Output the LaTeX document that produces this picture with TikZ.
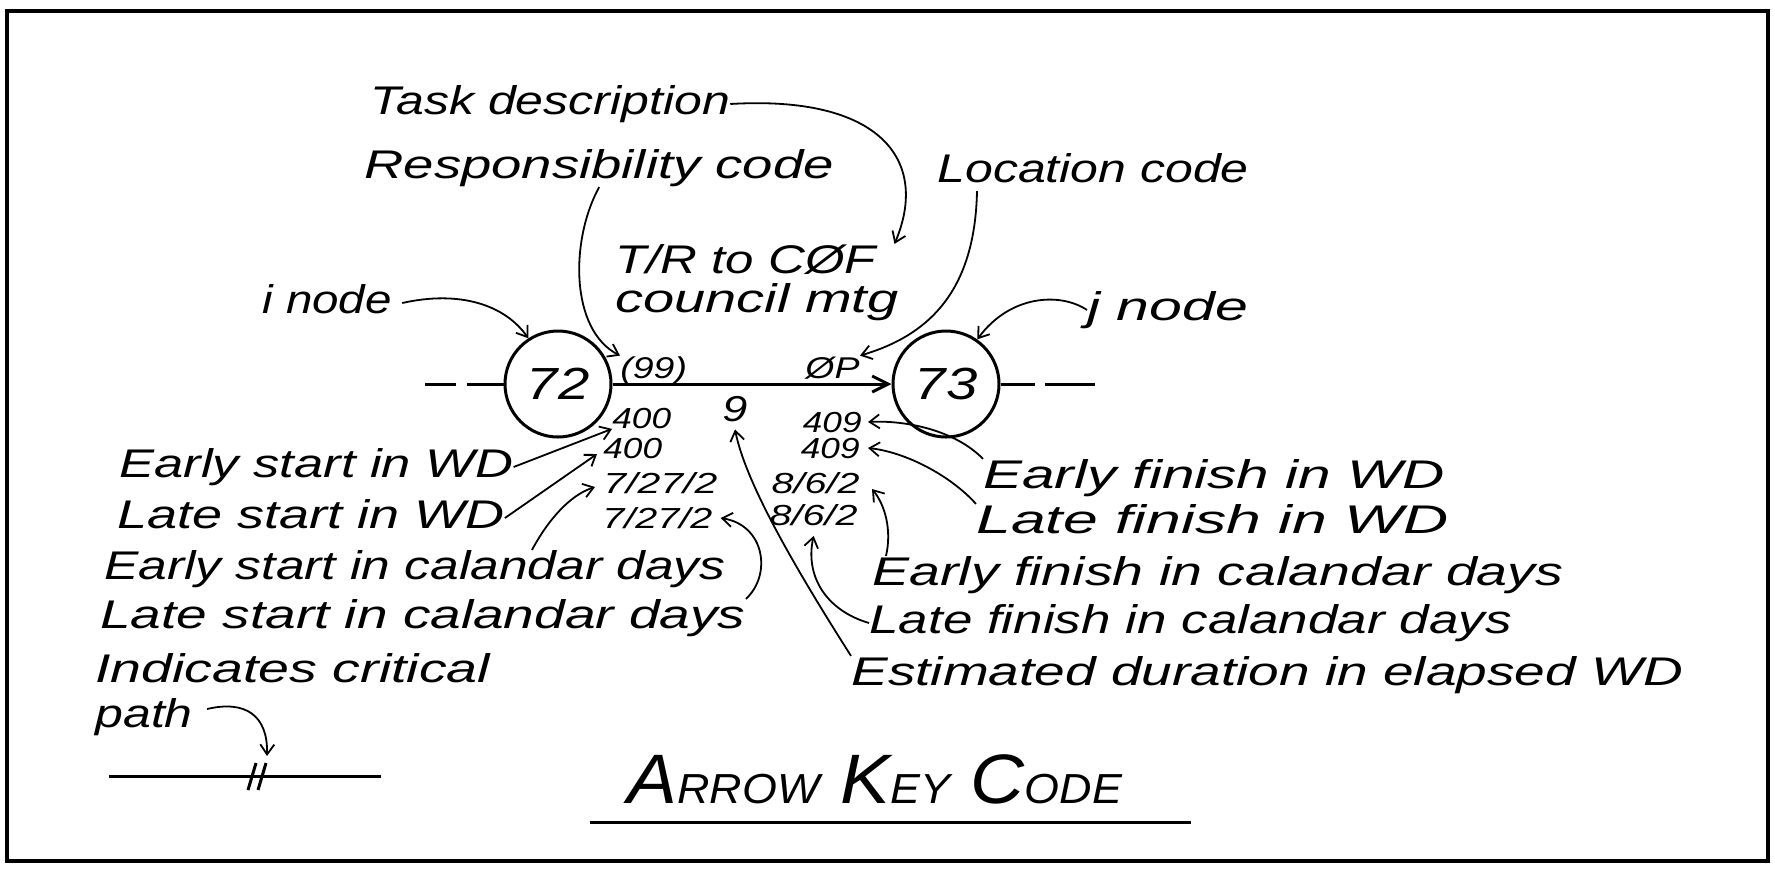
\documentclass[tikz,border=0pt]{standalone}
\usepackage{fontspec}
\usepackage{graphicx}
\usetikzlibrary{arrows.meta,calc}
\newfontfamily\handfont{Liberation Sans}[FakeStretch=1.25]
\newcommand{\hsx}[2]{\scalebox{#1}[1]{#2}}
\newcommand{\smc}[1]{{\fontsize{21}{21}\selectfont #1}}
\begin{document}
\begin{tikzpicture}[x=0.5pt,y=-0.5pt,
  lab/.style={inner sep=0pt, anchor=west, text height=14.5pt, text depth=4.2pt,
    font=\handfont\itshape\fontsize{20}{20}\selectfont},
  num/.style={inner sep=0pt, text height=10.5pt, text depth=0pt,
    font=\handfont\itshape\fontsize{14.5}{14.5}\selectfont},
  codelab/.style={inner sep=0pt, text height=11pt, text depth=0pt,
    font=\handfont\itshape\fontsize{15}{15}\selectfont},
  evt/.style={circle, draw, line width=1.5pt, minimum size=53pt, inner sep=0pt,
    font=\handfont\itshape\fontsize{22.5}{22.5}\selectfont},
  conn/.style={line width=0.9pt, -{Straight Barb[length=5pt,width=7pt]}},
  act/.style={line width=1.5pt},
]
\useasboundingbox (0,0) rectangle (1775,874);
% frame
\draw[line width=2pt] (7,11) rectangle (1768,861);

% event nodes
\node[evt] (c72) at (558,384) {72};
\node[evt] (c73) at (946,384) {73};

% activity line and stubs
\coordinate (l1) at (425,384); \coordinate (l2) at (456,384); \coordinate (l3) at (467,384);
\coordinate (r1) at (1035,384); \coordinate (r2) at (1045,384); \coordinate (r3) at (1095,384);
\draw[act] (l1) -- (l2);
\draw[act] (l3) -- (c72.west);
\draw[act] (c73.east) -- (r1);
\draw[act] (r2) -- (r3);
\draw[act, -{Straight Barb[length=8pt,width=8pt]}] (c72.east) -- (c73.west);

% top labels
\node[lab] (task) at (370,104) {Task description};
\node[lab] (resp) at (364,168) {\hsx{1.09}{Responsibility code}};
\node[lab] (loc) at (937,172) {Location code};
\node[lab] (tr1) at (615,263) {\hsx{1.02}{T/R to CØF}};
\node[lab] (tr2) at (615,302) {\hsx{1.12}{council mtg}};
\node[lab] (inode) at (262,303) {\hsx{0.95}{i node}};
\node[lab] (jnode) at (1087,310) {\hsx{1.18}{j node}};
\node[codelab, anchor=west] (p99) at (620,367) {(99)};
\node[codelab, anchor=west] (op) at (805,367) {ØP};

% numbers
\node[num, anchor=west] (es1) at (612,418) {\hsx{0.97}{400}};
\node[num, anchor=west] (es2) at (603,448) {\hsx{0.97}{400}};
\node[num, anchor=west] (ds1) at (603,483) {\hsx{1.13}{7/27/2}};
\node[num, anchor=west] (ds2) at (602,518) {\hsx{1.09}{7/27/2}};
\node[num, inner ysep=4pt, text height=13pt, font=\handfont\itshape\fontsize{18}{18}\selectfont] (dur) at (735,408) {9};
\node[num, anchor=east] (ef1) at (862,422) {\hsx{0.97}{409}};
\node[num, anchor=east] (ef2) at (860,448) {\hsx{0.97}{409}};
\node[num, anchor=east] (fd1) at (860,483) {\hsx{1.09}{8/6/2}};
\node[num, anchor=east] (fd2) at (858,515) {\hsx{1.09}{8/6/2}};

% lower labels
\node[lab] (est) at (119,467) {\hsx{1.05}{Early start in WD}};
\node[lab] (lst) at (117,518) {\hsx{1.08}{Late start in WD}};
\node[lab] (escd) at (104,569) {\hsx{1.03}{Early start in calandar days}};
\node[lab] (lscd) at (100,618) {\hsx{1.1}{Late start in calandar days}};
\node[lab] (efin) at (983,478) {\hsx{1.17}{Early finish in WD}};
\node[lab] (lfin) at (976,523) {\hsx{1.25}{Late finish in WD}};
\node[lab] (efcd) at (872,575) {\hsx{1.11}{Early finish in calandar days}};
\node[lab] (lfcd) at (869,623) {\hsx{1.06}{Late finish in calandar days}};
\node[lab] (estd) at (851,675) {\hsx{1.1}{Estimated duration in elapsed WD}};
\node[lab] (crit) at (95,672) {\hsx{1.11}{Indicates critical}};
\node[lab] (pathlab) at (95,717) {path};

% title
\node[inner sep=0pt, anchor=base west, font=\handfont\itshape\fontsize{35}{35}\selectfont] (title) at (627,803)
  {\hsx{0.855}{A\smc{RROW} K\smc{EY} C\smc{ODE}}};
\coordinate (u1) at (590,822); \coordinate (u2) at (1191,822);
\draw[act] (u1) -- (u2);

% critical path sample
\coordinate (cl1) at (109,776); \coordinate (cl2) at (381,776);
\draw[act] (cl1) -- (cl2);
\draw[act] (248,790) -- (256,763);
\draw[act] (258,790) -- (266,763);
\coordinate (ck) at (267,756);
\draw[conn] ([xshift=7pt,yshift=4pt]pathlab.east) .. controls (245,700) and (268,715) .. (ck);

% connectors
\draw[conn] (task.east) .. controls (880,95) and (930,160) .. ([xshift=9pt]tr1.north east);
\draw[conn] (resp.south) .. controls (570,240) and (570,330) .. (p99.north west);
\draw[conn] ([xshift=20pt]loc.south west) .. controls (975,290) and (930,335) .. (op.north east);
\draw[conn] ([xshift=5pt]inode.east) .. controls (460,290) and (505,305) .. (c72.123);
\draw[conn] (jnode.west) .. controls (1060,292) and (1010,295) .. (c73.55);

\draw[conn] (est.east) -- (es1.south west);
\draw[conn] (lst.east) -- ([xshift=-3pt,yshift=-3pt]es2.west);
\draw[conn] ([xshift=214pt]escd.north west) .. controls (548,520) and (570,495) .. ([xshift=-4pt,yshift=-2pt]ds1.west);
\draw[conn] (lscd.north east) .. controls (772,575) and (765,525) .. ([xshift=4pt]ds2.east);
\draw[conn] (estd.north west) .. controls (790,560) and (745,480) .. (dur.south);

\draw[conn] (efin.north west) .. controls (955,430) and (905,420) .. ([xshift=3pt]ef1.east);
\draw[conn] (lfin.north west) .. controls (950,475) and (905,452) .. ([xshift=4pt]ef2.east);
\draw[conn] ([xshift=7pt]efcd.north west) .. controls (892,530) and (885,505) .. ([xshift=6pt,yshift=-3pt]fd1.east);
\draw[conn] (lfcd.west) .. controls (825,610) and (805,575) .. ([yshift=-5pt]fd2.south);
\end{tikzpicture}
\end{document}
